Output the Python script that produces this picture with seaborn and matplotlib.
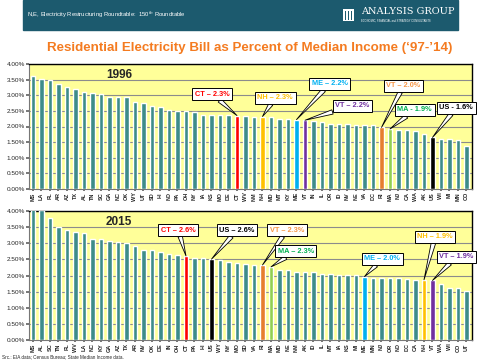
import matplotlib
matplotlib.use("Agg")
import matplotlib.pyplot as plt
import seaborn as sns
import pandas as pd
from matplotlib.patches import Rectangle
from matplotlib.ticker import FuncFormatter

# Data
states_1996 = ["MS", "LA", "FL", "AR", "AZ", "TX", "AL", "TN", "SC", "GA", "NC", "OK", "WY",
               "UT", "SD", "HI", "ND", "PA", "OH", "NY", "IA", "KS", "MO", "DE", "CT", "WV",
               "NM", "NH", "MD", "MT", "KY", "ME", "VT", "IN", "IL", "OR", "ID", "NV", "NE",
               "VA", "DC", "RI", "MA", "NJ", "CA", "WA", "AK", "US", "WI", "MI", "MN", "CO"]
pct_1996 = [3.62, 3.53, 3.49, 3.37, 3.27, 3.20, 3.11, 3.07, 3.04, 2.95, 2.95, 2.95, 2.79,
            2.76, 2.66, 2.61, 2.53, 2.51, 2.51, 2.47, 2.37, 2.37, 2.37, 2.37, 2.35, 2.34,
            2.32, 2.32, 2.29, 2.25, 2.25, 2.22, 2.20, 2.17, 2.16, 2.08, 2.08, 2.08, 2.05,
            2.05, 2.05, 1.97, 1.92, 1.89, 1.89, 1.86, 1.76, 1.65, 1.60, 1.60, 1.57, 1.39]

states_2015 = ["MS", "AL", "SC", "TN", "FL", "WV", "LA", "NC", "KY", "GA", "AZ", "TX", "AR",
               "NV", "OK", "DE", "IN", "OH", "CT", "PA", "HI", "US", "WY", "NY", "MO", "SD",
               "VA", "RI", "MA", "MD", "NE", "NM", "AK", "ID", "IL", "MT", "IA", "KS", "MI",
               "ME", "MN", "NJ", "OR", "ND", "DC", "CA", "NH", "VT", "WA", "WI", "CO", "UT"]
pct_2015 = [4.10, 4.02, 3.78, 3.50, 3.41, 3.35, 3.32, 3.14, 3.14, 3.07, 3.04, 3.01, 2.92,
            2.80, 2.80, 2.74, 2.67, 2.64, 2.61, 2.56, 2.55, 2.51, 2.47, 2.42, 2.39, 2.37,
            2.33, 2.33, 2.27, 2.18, 2.16, 2.12, 2.12, 2.12, 2.05, 2.05, 2.02, 2.02, 2.02,
            1.97, 1.93, 1.93, 1.93, 1.93, 1.90, 1.87, 1.87, 1.85, 1.74, 1.62, 1.62, 1.54]

highlight = {"CT": "#FF0000", "NH": "#FFC000", "ME": "#00B0F0", "VT": "#7030A0",
             "RI": "#E67E2E", "MA": "#92D050", "US": "#000000"}
base_color = "#3D8C8A"

# callouts: (text, state, text colour, box centre x index, box centre y value)
notes_1996 = [("CT – 2.3%", "CT", "#FF0000", 21.1, 3.04),
              ("NH – 2.3%", "NH", "#FFC000", 28.5, 2.92),
              ("ME – 2.2%", "ME", "#00B0F0", 34.9, 3.37),
              ("VT – 2.2%", "VT", "#7030A0", 37.6, 2.66),
              ("VT – 2.0%", "RI", "#F79646", 43.6, 3.30),
              ("MA - 1.9%", "MA", "#00B050", 44.9, 2.53),
              ("US - 1.6%", "US", "#000000", 49.8, 2.60)]
notes_2015 = [("CT – 2.6%", "CT", "#FF0000", 17.1, 3.41),
              ("US – 2.6%", "US", "#000000", 24.0, 3.41),
              ("VT – 2.3%", "RI", "#F79646", 29.9, 3.41),
              ("MA – 2.3%", "MA", "#00B050", 30.9, 2.76),
              ("ME – 2.0%", "ME", "#00B0F0", 41.1, 2.52),
              ("NH – 1.9%", "NH", "#FFC000", 47.3, 3.20),
              ("VT – 1.9%", "VT", "#7030A0", 49.8, 2.58)]

sns.set_theme(style="white")
plt.rcParams["font.family"] = ["Liberation Sans", "DejaVu Sans"]

fig = plt.figure(figsize=(4.8, 3.6), dpi=100)
fig.patch.set_facecolor("white")

# header band
fig.patches.append(Rectangle((23 / 480, 1 - 30 / 360), 435 / 480, 30 / 360,
                             transform=fig.transFigure, color="#1C5A6E", zorder=0))
fig.text(27 / 480, 1 - 15 / 360, "N,E, Electricity Restructuring Roundtable:  150$^{th}$ Roundtable",
         color="white", fontsize=4.2, va="center")
fig.patches.append(Rectangle((343 / 480, 1 - 21 / 360), 11 / 480, 12 / 360,
                             transform=fig.transFigure, fc="white", ec="none", zorder=1))
for k in range(3):
    fig.patches.append(Rectangle(((345 + 2.8 * k) / 480, 1 - 19.5 / 360), 1.4 / 480, 8 / 360,
                                 transform=fig.transFigure, fc="#1C5A6E", ec="none", zorder=2))
fig.text(361 / 480, 1 - 12 / 360, "ANALYSIS GROUP", color="white", fontsize=7,
         family="DejaVu Serif", va="center")
fig.text(361 / 480, 1 - 20.5 / 360, "ECONOMIC, FINANCIAL and STRATEGY CONSULTANTS",
         color="white", fontsize=1.9, va="center")

fig.text(0.52, 1 - 48 / 360, "Residential Electricity Bill as Percent of Median Income (‘97-’14)",
         color="#F47B20", fontsize=9.6, fontweight="bold", ha="center", va="center")

fig.text(2 / 480, 1 - 356.5 / 360, "Src.: EIA data; Census Bureau; State Median Income data.",
         fontsize=3.3, va="center", color="#222222")


def draw_panel(ax, states, values, notes, year):
    df = pd.DataFrame({"state": states, "value": values})
    pal = {s: highlight.get(s, base_color) for s in states}
    sns.barplot(data=df, x="state", y="value", hue="state", palette=pal, legend=False,
                width=0.5, saturation=1, ax=ax, zorder=3)
    ax.set_facecolor("#FFFF99")
    ax.set_ylim(0, 4.0)
    ax.set_xlim(-0.47, 51.65)
    ax.set_yticks([i * 0.5 for i in range(9)])
    ax.yaxis.set_major_formatter(FuncFormatter(lambda v, p: f"{v:.2f}%"))
    ax.grid(axis="y", color="#8C8C8C", lw=0.8, zorder=0)
    ax.set_axisbelow(True)
    ax.set_xlabel("")
    ax.set_ylabel("")
    ax.tick_params(axis="y", labelsize=4.6, length=2, pad=1, left=True, color="#666666")
    ax.tick_params(axis="x", labelsize=4.0, length=1.5, pad=0.8, rotation=90, bottom=True,
                   color="#666666")
    for lab in ax.get_xticklabels():
        lab.set_fontweight("bold")
    for side in ("top", "right"):
        ax.spines[side].set_color("black")
        ax.spines[side].set_linewidth(1.0)
    for side in ("left", "bottom"):
        ax.spines[side].set_color("#777777")
        ax.spines[side].set_linewidth(0.8)
    ax.text(10.1, 3.65, year, fontsize=8.5, fontweight="bold", ha="center", va="center")
    for text, st, col, bx, by in notes:
        i = states.index(st)
        ax.annotate(text, xy=(i, min(values[i], 4.0)), xytext=(bx, by),
                    fontsize=5.3, fontweight="bold", color=col, ha="center", va="center",
                    annotation_clip=False, zorder=6,
                    bbox=dict(boxstyle="square,pad=0.35", fc="white", ec="black", lw=0.7),
                    arrowprops=dict(arrowstyle="wedge,tail_width=0.6,shrink_factor=0.5",
                                    fc="white", ec="black", lw=0.6, shrinkA=0, shrinkB=0))


ax1 = fig.add_axes([29 / 480, 1 - 189 / 360, 443 / 480, 125 / 360])
ax2 = fig.add_axes([29 / 480, 1 - 340.3 / 360, 443 / 480, 129.3 / 360])
draw_panel(ax1, states_1996, pct_1996, notes_1996, "1996")
draw_panel(ax2, states_2015, pct_2015, notes_2015, "2015")

fig.savefig("out.png", dpi=100)
